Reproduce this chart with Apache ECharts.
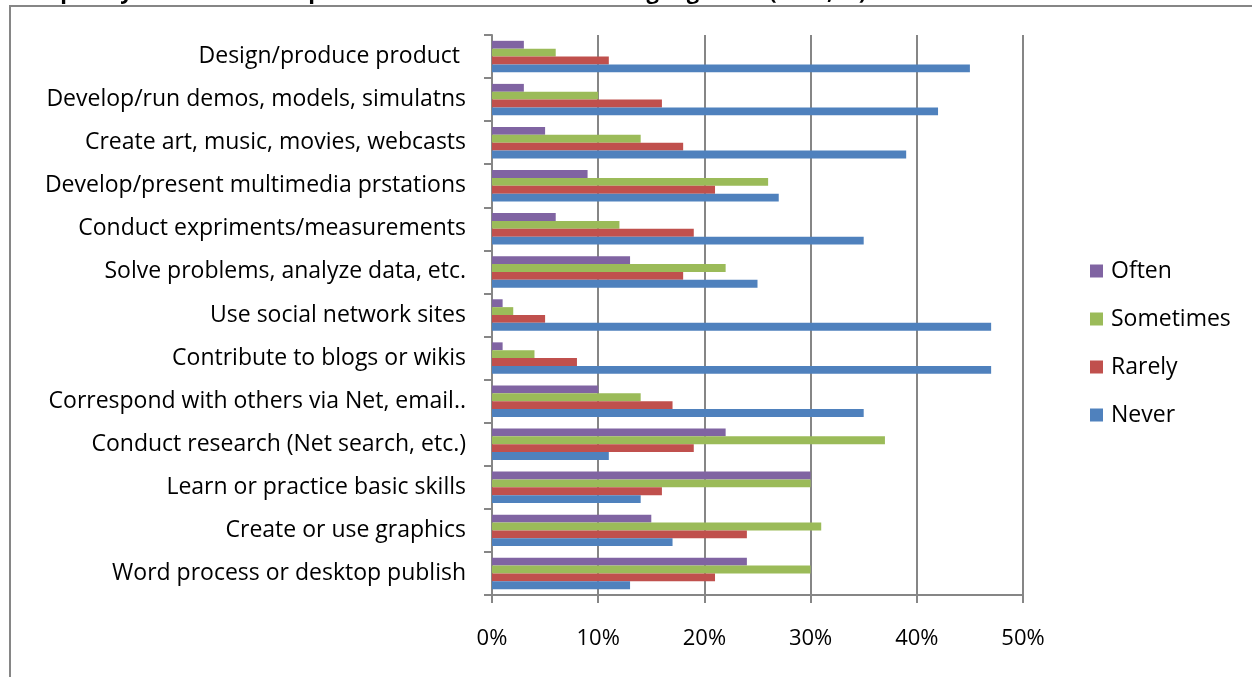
<!DOCTYPE html>
<html>
<head>
<meta charset="utf-8">
<script src="https://cdn.jsdelivr.net/npm/echarts@6/dist/echarts.min.js"></script>
<style>
html,body{margin:0;padding:0;background:#fff;}
#chart{width:1252px;height:677px;}
</style>
</head>
<body>
<div id="chart"></div>
<script>
const titleText = "Frequency of Student Computer Use in Middle School Language Arts (2008, %)";
const categories = [
  "Design/produce product ",
  "Develop/run demos, models, simulatns",
  "Create art, music, movies, webcasts",
  "Develop/present multimedia prstations",
  "Conduct expriments/measurements",
  "Solve problems, analyze data, etc.",
  "Use social network sites",
  "Contribute to blogs or wikis",
  "Correspond with others via Net, email..",
  "Conduct research (Net search, etc.)",
  "Learn or practice basic skills",
  "Create or use graphics",
  "Word process or desktop publish"
];
const seriesNames = ["Often", "Sometimes", "Rarely", "Never"];
const often     = [3, 3, 5, 9, 6, 13, 1, 1, 10, 22, 30, 15, 24];
const sometimes = [6, 10, 14, 26, 12, 22, 2, 4, 14, 37, 30, 31, 30];
const rarely    = [11, 16, 18, 21, 19, 18, 5, 8, 17, 19, 16, 24, 21];
const never     = [45, 42, 39, 27, 35, 25, 47, 47, 35, 11, 14, 17, 13];
const xTicks = [0, 10, 20, 30, 40, 50];
const colors = ["#8064A2", "#9BBB59", "#C0504D", "#4F81BD"];

const valuesBySeries = [often, sometimes, rarely, never];
const font = "'Open Sans', sans-serif";
const chart = echarts.init(document.getElementById('chart'));
chart.setOption({
  animation: false,
  backgroundColor: '#fff',
  title: {
    text: titleText,
    left: 18,
    top: -18,
    padding: 0,
    textStyle: {fontFamily: font, fontSize: 22, fontWeight: 'bold', color: '#000', lineHeight: 22}
  },
  graphic: [{
    type: 'rect',
    shape: {x: 10, y: 6, width: 1400, height: 800},
    style: {fill: 'none', stroke: '#868686', lineWidth: 2},
    silent: true
  }],
  legend: {
    orient: 'vertical',
    left: 1090,
    top: 259,
    padding: 0,
    data: seriesNames,
    icon: 'rect',
    itemWidth: 13,
    itemHeight: 13,
    itemGap: 24,
    textStyle: {fontFamily: font, fontSize: 23, color: '#000', lineHeight: 24, padding: [0, 0, 0, 3]}
  },
  grid: {left: 492, right: 229, top: 35, bottom: 82, containLabel: false},
  xAxis: {
    type: 'value',
    min: xTicks[0],
    max: xTicks[xTicks.length - 1],
    interval: xTicks[1] - xTicks[0],
    axisLine: {show: true, lineStyle: {color: '#868686', width: 2}},
    axisTick: {show: true, length: 8, lineStyle: {color: '#868686', width: 2}},
    splitLine: {show: true, lineStyle: {color: '#868686', width: 2}},
    axisLabel: {formatter: '{value}%', margin: 33, fontFamily: font, fontSize: 22, color: '#000'}
  },
  yAxis: {
    type: 'category',
    data: categories,
    inverse: true,
    axisLine: {show: true, lineStyle: {color: '#868686', width: 2}},
    axisTick: {show: true, length: 8, lineStyle: {color: '#868686', width: 2}},
    axisLabel: {margin: 26, fontFamily: font, fontSize: 23, color: '#000'},
    splitLine: {show: false}
  },
  series: seriesNames.map((name, i) => ({
    name: name,
    type: 'bar',
    data: valuesBySeries[i],
    barGap: '0%',
    barCategoryGap: '27%',
    itemStyle: {color: colors[i]}
  }))
});
</script>
</body>
</html>
